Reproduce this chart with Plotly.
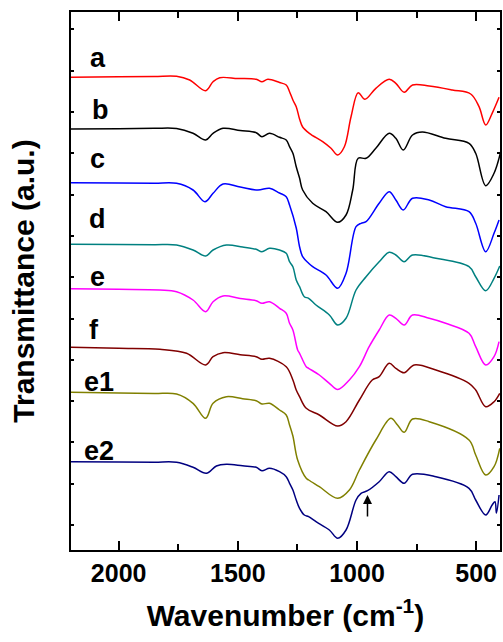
import plotly.graph_objects as go

# Wavenumber (cm^-1) and transmittance (a.u., curves offset vertically as in the figure)
wn_a = [2200, 2000, 1850, 1757, 1702, 1635, 1604, 1576, 1500, 1423, 1399, 1374, 1325, 1297, 1283, 1269, 1255,
        1241, 1228, 1200, 1144, 1109, 1081, 1053, 1025, 995, 967, 921, 865, 837, 802, 767, 697, 600, 523, 488,
        460, 433, 404]
t_a = [472.7, 473.2, 473.5, 473.7, 470, 459.3, 468.3, 472.3, 471.5, 470.7, 468.3, 470.7, 467.5, 465, 458.3, 450,
       443.3, 431, 423, 416.7, 408.3, 401.7, 395, 403.3, 433.3, 457.3, 450.7, 461.7, 470.7, 466.7, 457.7, 465,
       464, 460, 456, 443.3, 425, 436.7, 452.7]

wn_b = [2200, 2000, 1850, 1757, 1688, 1635, 1604, 1562, 1490, 1423, 1399, 1367, 1325, 1297, 1283, 1269, 1255,
        1241, 1228, 1186, 1130, 1081, 1046, 1018, 995, 962, 921, 865, 837, 806, 767, 726, 628, 530, 502, 460,
        425, 397]
t_b = [421, 421.3, 421.7, 421.5, 416.7, 410, 416.7, 421.7, 419.5, 417.3, 413.3, 416.7, 412.7, 410, 403.3, 396.7,
       383.3, 372, 360, 346.7, 338.3, 327.7, 335, 360, 391.7, 391.7, 401.7, 416.7, 411.7, 400, 415, 418, 411.7,
       406.7, 396.7, 364.3, 376.7, 398.3]

wn_c = [2200, 2000, 1850, 1757, 1688, 1638, 1604, 1562, 1490, 1416, 1367, 1325, 1297, 1283, 1255, 1241, 1228,
        1203, 1186, 1130, 1081, 1046, 1004, 983, 962, 907, 865, 837, 806, 767, 697, 628, 530, 502, 460, 425, 404]
t_c = [367.3, 367, 366.8, 366.7, 360, 348.3, 356.7, 366, 363, 360, 361.7, 357, 353.3, 345, 322, 303.3, 293.3,
       286.7, 283.3, 275, 261.7, 276.7, 323.3, 326.7, 328.3, 346.7, 358.3, 350, 340, 351.7, 350, 343.3, 338.3,
       326.7, 298.3, 316.7, 330]

wn_d = [2200, 2000, 1850, 1757, 1688, 1635, 1604, 1548, 1480, 1423, 1399, 1367, 1325, 1297, 1283, 1269, 1255,
        1241, 1221, 1203, 1172, 1116, 1081, 1046, 1004, 962, 907, 865, 837, 802, 767, 669, 530, 502, 460, 425, 401]
t_d = [305.7, 305.5, 305.3, 305, 300, 294, 300, 305, 303, 300.7, 298.3, 301.7, 300, 296.7, 288.3, 283.3, 270,
       263.3, 253.3, 251.7, 245, 235, 225, 231.7, 260, 273.3, 288.3, 297.7, 295, 288.3, 295, 291.7, 283.3,
       273.3, 259.3, 271.7, 284]

wn_e = [2200, 2000, 1827, 1757, 1688, 1635, 1604, 1562, 1490, 1423, 1399, 1367, 1325, 1297, 1283, 1269, 1249,
        1241, 1213, 1203, 1158, 1116, 1081, 1032, 990, 949, 907, 865, 837, 802, 767, 697, 628, 530, 502, 460,
        425, 404]
t_e = [261.3, 260.7, 260, 258.3, 250, 238.3, 248.3, 254, 251.5, 249.3, 246.7, 248.3, 241.7, 236.7, 226.7, 220,
       200, 196.7, 183.3, 181.7, 175, 166.7, 160.5, 170, 183.3, 203.3, 220, 235, 231.7, 225, 235, 231.7, 226.7,
       216.7, 203.3, 185, 193.3, 208.3]

wn_f = [2200, 2000, 1827, 1715, 1635, 1604, 1562, 1490, 1423, 1399, 1367, 1297, 1269, 1255, 1241, 1213, 1158,
        1081, 1046, 990, 936, 907, 865, 837, 802, 760, 669, 530, 502, 460, 425, 401]
t_f = [202.7, 201.7, 200.7, 196.7, 185, 193.3, 197.3, 195.3, 193.3, 190.7, 191.7, 183.3, 170, 160, 153.3, 141.7,
       135, 124, 128.3, 150, 170, 173.3, 186.7, 181.7, 177.3, 185, 180, 166.7, 160, 143.3, 148.3, 156.7]

wn_e1 = [2200, 2000, 1850, 1757, 1688, 1635, 1604, 1548, 1480, 1423, 1399, 1367, 1325, 1297, 1283, 1269, 1249,
         1213, 1203, 1158, 1081, 1032, 990, 921, 858, 830, 802, 767, 697, 530, 502, 460, 425, 401]
t_e1 = [157.7, 157, 156.5, 156, 146.7, 131.7, 146.7, 153.3, 151.3, 149.3, 146, 146.7, 140, 135, 125, 114, 90,
        71.7, 70, 63.3, 51.7, 60, 80, 110, 131.7, 125, 117.7, 131, 128.3, 110, 95, 75, 83.3, 101.7]

wn_e2 = [2200, 2000, 1850, 1757, 1688, 1632, 1590, 1548, 1480, 1423, 1399, 1367, 1325, 1297, 1283, 1269, 1255,
         1241, 1221, 1203, 1172, 1116, 1081, 1046, 1004, 983, 956, 907, 865, 837, 802, 767, 669, 530, 502, 460,
         433, 421, 415, 404]
t_e2 = [88.3, 88, 87.8, 87.7, 82.7, 76.7, 84, 85.7, 84.2, 82.7, 79.3, 81.7, 78.3, 73.3, 66.7, 60, 50, 41.7, 35,
        33.3, 28.3, 20, 11.7, 20, 50, 56.7, 59.3, 68.3, 78.3, 73.3, 66.7, 75.7, 73.3, 61.7, 50, 35, 45, 48.3,
        37, 55]

names = ["a", "b", "c", "d", "e", "f", "e1", "e2"]
colors = ["#FF0000", "#000000", "#0000FF", "#008080", "#FF00FF", "#800000", "#808000", "#000080"]
series_x = [wn_a, wn_b, wn_c, wn_d, wn_e, wn_f, wn_e1, wn_e2]
series_y = [t_a, t_b, t_c, t_d, t_e, t_f, t_e1, t_e2]

# label anchor positions (wavenumber, a.u.)
label_x = [2088, 2075, 2088, 2088, 2088, 2102, 2082, 2081]
label_y = [492, 440, 391, 331, 273, 220, 168, 99]

# arrow marking the shoulder on e2
arrow_wn = 956
arrow_head = 55
arrow_tail = 32

FONT = "Liberation Sans, Arial, sans-serif"

fig = go.Figure()
for n, c, xs, ys in zip(names, colors, series_x, series_y):
    fig.add_trace(go.Scatter(x=xs, y=ys, mode="lines", name=n,
                             line=dict(color=c, width=1.5, shape="spline", smoothing=1.0)))

for n, lx, ly in zip(names, label_x, label_y):
    fig.add_annotation(x=lx, y=ly, xref="x", yref="y", text="<b>%s</b>" % n, showarrow=False,
                       font=dict(family=FONT, size=27, color="black"))

fig.add_annotation(x=arrow_wn, y=arrow_head, ax=arrow_wn, ay=arrow_tail, xref="x", yref="y",
                   axref="x", ayref="y", text="", showarrow=True, arrowhead=2, arrowsize=1.2,
                   arrowwidth=1.5, arrowcolor="black")

fig.update_layout(
    width=503, height=642,
    margin=dict(l=71, r=1, t=12, b=92),
    plot_bgcolor="white", paper_bgcolor="white",
    showlegend=False,
    font=dict(family=FONT, color="black"),
)
fig.update_xaxes(
    range=[2200, 400], tickmode="linear", tick0=0, dtick=500,
    ticks="inside", ticklen=9, tickwidth=2, tickcolor="black",
    minor=dict(ticks="inside", ticklen=6, tickwidth=2, dtick=250, tick0=0, tickcolor="black"),
    showline=True, linewidth=2, linecolor="black", mirror="allticks",
    showgrid=False, zeroline=False,
    tickfont=dict(family=FONT, size=25, color="black", weight="bold"),
    title=dict(text="<b>Wavenumber (cm<sup>-1</sup>)</b>", font=dict(family=FONT, size=30, color="black"),
               standoff=19),
)
fig.update_yaxes(
    range=[0, 538], tickmode="linear", tick0=25, dtick=41.3,
    ticks="inside", ticklen=3, tickwidth=2, tickcolor="black",
    showticklabels=False,
    showline=True, linewidth=2, linecolor="black", mirror="allticks",
    showgrid=False, zeroline=False,
    title=dict(text="<b>Transmittance (a.u.)</b>", font=dict(family=FONT, size=30, color="black"),
               standoff=26),
)

fig.write_html("out.html")
